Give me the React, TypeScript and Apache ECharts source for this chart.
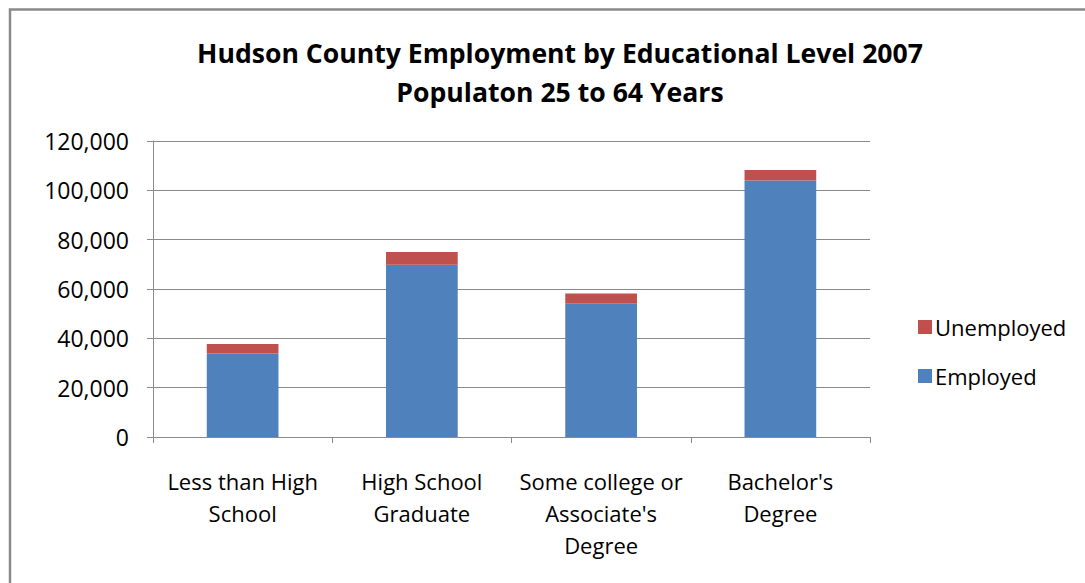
import React, { useEffect, useRef } from "react";
import * as echarts from "echarts";

const categories = ["Less than High\nSchool", "High School\nGraduate", "Some college or\nAssociate's\nDegree", "Bachelor's\nDegree"];
const employed = [33900, 69800, 54200, 104000];
const unemployed = [3800, 5200, 4000, 4200];
const yTicks = { min: 0, max: 120000, interval: 20000 };
const titleLines = ["Hudson County Employment by Educational Level 2007", "Populaton 25 to 64 Years"];

const FONT = "'Open Sans', 'Noto Sans', sans-serif";

export default function App() {
  const ref = useRef<HTMLDivElement>(null);
  useEffect(() => {
    const chart = echarts.init(ref.current!, null, { renderer: "svg" });
    chart.setOption({
      animation: false,
      backgroundColor: "#fff",
      title: {
        text: titleLines.join("\n"),
        left: 555,
        textAlign: "center",
        top: 28,
        textStyle: { fontFamily: FONT, fontWeight: "bold", fontSize: 26.6, color: "#000", lineHeight: 39 },
      },
      graphic: [
        {
          type: "rect",
          shape: { x: 10, y: 9.5, width: 1200, height: 700 },
          style: { fill: "none", stroke: "#8a8a8a", lineWidth: 2.5 },
          silent: true,
        },
      ],
      legend: {
        orient: "vertical",
        left: 913,
        top: 310,
        itemWidth: 14,
        itemHeight: 14,
        itemGap: 25,
        icon: "rect",
        data: ["Unemployed", "Employed"],
        textStyle: { fontFamily: FONT, fontSize: 22, lineHeight: 24, color: "#000", padding: [0, 0, 0, -2] },
      },
      grid: { left: 153, right: 215, top: 141, bottom: 146 },
      xAxis: {
        type: "category",
        data: categories,
        axisLine: { lineStyle: { color: "#8a8a8a", width: 1 } },
        axisTick: { show: true, length: 6, lineStyle: { color: "#8a8a8a" } },
        axisLabel: { interval: 0, fontFamily: FONT, fontSize: 22, color: "#000", lineHeight: 32, margin: 28 },
      },
      yAxis: {
        type: "value",
        min: yTicks.min,
        max: yTicks.max,
        interval: yTicks.interval,
        axisLine: { show: true, lineStyle: { color: "#8a8a8a" } },
        axisTick: { show: true, length: 6, lineStyle: { color: "#8a8a8a" } },
        splitLine: { lineStyle: { color: "#8a8a8a", width: 1 } },
        axisLabel: {
          fontFamily: FONT,
          fontSize: 23,
          color: "#000",
          margin: 24,
          formatter: (v: number) => v.toLocaleString("en-US"),
        },
      },
      series: [
        {
          name: "Employed",
          type: "bar",
          stack: "total",
          data: employed,
          barWidth: "40%",
          itemStyle: { color: "#4f81bd" },
        },
        {
          name: "Unemployed",
          type: "bar",
          stack: "total",
          data: unemployed,
          barWidth: "40%",
          itemStyle: { color: "#c0504d" },
        },
      ],
    });
    return () => chart.dispose();
  }, []);
  return <div ref={ref} style={{ position: "fixed", left: 0, top: 0, width: 1085, height: 583 }} />;
}
